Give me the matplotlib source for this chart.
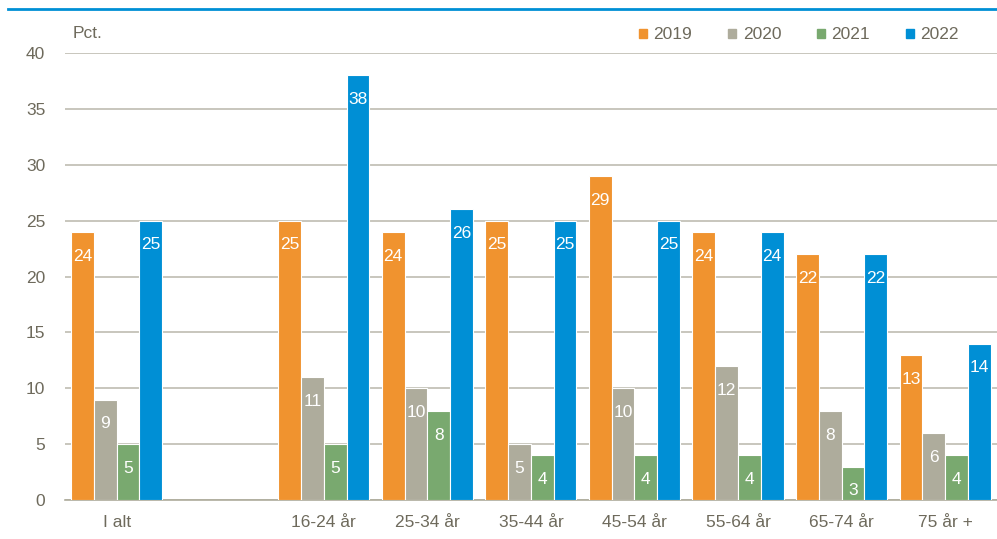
import numpy as np
import matplotlib.pyplot as plt
from matplotlib.patches import Patch
from matplotlib.lines import Line2D

categories = ['I alt', '', '16-24 år', '25-34 år', '35-44 år', '45-54 år', '55-64 år', '65-74 år', '75 år +']
years = ['2019', '2020', '2021', '2022']
v2019 = [24, None, 25, 24, 25, 29, 24, 22, 13]
v2020 = [9, None, 11, 10, 5, 10, 12, 8, 6]
v2021 = [5, None, 5, 8, 4, 4, 4, 3, 4]
v2022 = [25, None, 38, 26, 25, 25, 24, 22, 14]
colors = ['#F0932F', '#AEAC9C', '#79A96F', '#008FD5']
txt = '#6E6A5C'

plt.rcParams['font.family'] = ['Liberation Sans', 'DejaVu Sans']

fig = plt.figure(figsize=(9.97, 5.39), dpi=100)
ax = fig.add_axes([0.065, 0.072, 0.935, 0.83])

x = np.arange(len(categories))
w = 0.22
for i, (vals, c) in enumerate(zip([v2019, v2020, v2021, v2022], colors)):
    off = (i - 1.5) * w
    for xi, v in zip(x, vals):
        if v is None:
            continue
        ax.bar(xi + off, v, width=w, color=c, edgecolor='white', linewidth=0.8, zorder=3)
        ax.annotate(str(v), (xi + off, v), xytext=(0, -17.5), textcoords='offset points',
                    ha='center', va='center', color='white', fontsize=12.5, zorder=4)

ax.set_xlim(-0.5, len(categories) - 0.5)
ax.set_ylim(0, 40)
ax.set_yticks(range(0, 41, 5))
ax.set_xticks(x)
ax.set_xticklabels(categories)
ax.tick_params(length=0, labelsize=12.5, colors=txt, pad=11)
ax.tick_params(axis='y', pad=14)
ax.yaxis.grid(True, color='#BFBCB2', linewidth=1.2, zorder=0)
ax.set_axisbelow(True)
for s in ['left', 'right', 'top']:
    ax.spines[s].set_visible(False)
ax.spines['bottom'].set_color('#AEAC9C')
ax.spines['bottom'].set_linewidth(1.2)

fig.text(0.073, 0.937, 'Pct.', color=txt, fontsize=12.5, va='center')
fig.add_artist(Line2D([0.008, 1.0], [0.983, 0.983], color='#008FD5', linewidth=2))

handles = [Patch(color=c) for c in colors]
ax.legend(handles, years, ncol=4, loc='center right', bbox_to_anchor=(0.976, 1.04),
          frameon=False, fontsize=12.5, handlelength=0.45, handleheight=0.45,
          handletextpad=0.4, columnspacing=2.05, labelcolor=txt)

fig.savefig('out.png', dpi=100)
